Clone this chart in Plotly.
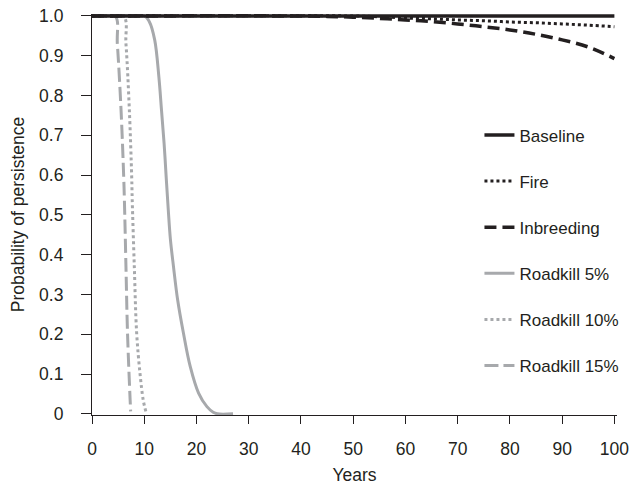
import plotly.graph_objects as go

# ---- data ----
baseline_x = [0, 100]
baseline_y = [1.0, 1.0]

fire_x = [0, 50, 55, 60, 65, 70, 75, 80, 85, 90, 95, 100]
fire_y = [1.0, 1.0, 0.998, 0.995, 0.993, 0.99, 0.988, 0.985, 0.983, 0.98, 0.977, 0.973]

inbreeding_x = [0, 40, 45, 50, 55, 60, 65, 70, 75, 80, 85, 90, 95, 100]
inbreeding_y = [1.0, 1.0, 0.999, 0.997, 0.994, 0.99, 0.986, 0.98, 0.973, 0.965, 0.954, 0.94, 0.922, 0.893]

rk5_x = [0, 10, 11, 12, 12.8, 13.3, 13.8, 14.2, 14.6, 15.0, 15.6, 16.4, 17.5, 18.8, 20.4, 22.0, 23.2, 24, 27]
rk5_y = [1.0, 1.0, 0.985, 0.94, 0.847, 0.764, 0.68, 0.595, 0.513, 0.44, 0.37, 0.286, 0.203, 0.119, 0.052, 0.018, 0.004, 0.0, 0.0]

rk10_x = [0, 6.0, 6.5, 7.15, 7.6, 7.7, 8.1, 8.55, 9.2, 9.8, 10.3]
rk10_y = [1.0, 1.0, 0.93, 0.764, 0.595, 0.538, 0.37, 0.203, 0.1, 0.035, 0.006]

rk15_x = [0, 4.4, 4.85, 5.56, 6.07, 6.2, 6.5, 6.8, 7.3, 7.4]
rk15_y = [1.0, 1.0, 0.93, 0.764, 0.595, 0.538, 0.37, 0.203, 0.035, 0.006]

x_ticks = list(range(0, 101, 10))
y_ticks = [0, 0.1, 0.2, 0.3, 0.4, 0.5, 0.6, 0.7, 0.8, 0.9, 1.0]
y_tick_labels = ["0", "0.1", "0.2", "0.3", "0.4", "0.5", "0.6", "0.7", "0.8", "0.9", "1.0"]

BLACK = "#231f20"
GRAY = "#a7a9ac"
FONT = "Liberation Sans, Arial, sans-serif"

series = [
    ("Baseline", baseline_x, baseline_y, BLACK, "solid", 3.5),
    ("Fire", fire_x, fire_y, BLACK, "dot", 3),
    ("Inbreeding", inbreeding_x, inbreeding_y, BLACK, "12px,6px", 3.5),
    ("Roadkill 5%", rk5_x, rk5_y, GRAY, "solid", 3),
    ("Roadkill 10%", rk10_x, rk10_y, GRAY, "dot", 3),
    ("Roadkill 15%", rk15_x, rk15_y, GRAY, "14px,5px", 3),
]
ranks = {s[0]: i + 1 for i, s in enumerate(series)}

fig = go.Figure()
# draw gray first so black sits on top
for name, xs, ys, col, dash, w in series[::-1]:
    fig.add_trace(go.Scatter(
        x=xs, y=ys, name=name, mode="lines",
        line=dict(color=col, dash=dash, width=w, shape="spline", smoothing=1.0),
        legendgroup=name, legendrank=ranks[name],
    ))

fig.update_layout(
    width=630, height=485,
    margin=dict(l=92, r=13, t=14, b=70, autoexpand=False),
    paper_bgcolor="white", plot_bgcolor="white",
    font=dict(family=FONT, color=BLACK, size=17),
    showlegend=True,
    legend=dict(
        x=0.738, y=0.742, xanchor="left", yanchor="top",
        bgcolor="rgba(0,0,0,0)", borderwidth=0,
        font=dict(size=17, color=BLACK),
        tracegroupgap=21, traceorder="grouped",
    ),
    xaxis=dict(
        range=[0, 100.5], tickvals=x_ticks, showgrid=False, zeroline=False,
        showline=True, linecolor=BLACK, linewidth=1.2, automargin=False,
        ticks="outside", ticklen=8, tickcolor=BLACK, tickwidth=1.2,
        tickfont=dict(size=17.5), ticklabelstandoff=10, ticklabeloverflow="allow",
        title=dict(text="Years", font=dict(size=17.5), standoff=11),
    ),
    yaxis=dict(
        range=[-0.003, 1.005], tickvals=y_ticks, ticktext=y_tick_labels, showgrid=False, zeroline=False,
        showline=True, linecolor=BLACK, linewidth=1.2, automargin=False,
        ticks="outside", ticklen=10, tickcolor=BLACK, tickwidth=1.2,
        tickfont=dict(size=17.5), ticklabelstandoff=14, ticklabeloverflow="allow",
        title=dict(text="Probability of persistence", font=dict(size=17.5), standoff=9),
    ),
)

# remove the default page margin so the 630x485 figure fills the window exactly
fig.write_html(
    "out.html",
    config={"displayModeBar": False},
    post_script="document.body.style.margin='0px';document.body.style.overflow='hidden';",
)
